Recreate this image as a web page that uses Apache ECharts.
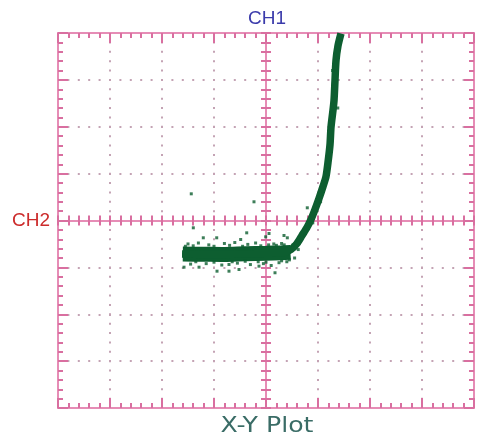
<!DOCTYPE html>
<html>
<head>
<meta charset="utf-8">
<script src="https://cdn.jsdelivr.net/npm/echarts@6/dist/echarts.min.js"></script>
<style>html,body{margin:0;padding:0;background:#fff;}#c{width:477px;height:438px;}</style>
</head>
<body>
<div id="c"></div>
<script>
// Axis range in divisions (8 x 8 screen divisions)
const xRange = [-4, 4];
const yRange = [-4, 4];
// Main trace centre line (divisions)
const traceX = [-1.615, -0.904, -0.135, 0.346, 0.481, 0.596, 0.692, 0.788, 0.865, 0.942, 1.019, 1.096, 1.154, 1.192, 1.231, 1.25, 1.288, 1.308, 1.327, 1.346, 1.385, 1.442];
const traceY = [-0.714, -0.725, -0.704, -0.682, -0.618, -0.490, -0.320, -0.149, 0.021, 0.235, 0.469, 0.725, 0.938, 1.237, 1.620, 1.99, 2.35, 2.56, 2.99, 3.41, 3.73, 3.99];
// Flat noisy band (divisions)
const bandX = [-1.60, -1.2, -0.8, -0.4, 0.0, 0.3, 0.47];
const bandY = [-0.715, -0.72, -0.725, -0.71, -0.70, -0.69, -0.68];
// Stray samples (divisions)
const dotX = [-1.437, -0.231, -1.398, -0.712, 0.173, -1.206, -0.948, -0.487, -1.577, -1.288, -0.942, -0.712, 0.794, 0.410, -0.371, -0.006, 0.058, 0.346, -0.519, -0.135,
  -1.5, -1.3, -1.1, -0.8, -0.6, -0.35, -0.2, 0.15, 0.3, -1.45, -1.15, -0.85, -0.55, -0.3, -0.05, 0.1, 0.25, 0.4, 0.55, 0.62, 0.74, 0.9, 1.05, 1.2, 1.38, 1.28,
  -1.55, -1.4, -1.0, -0.7, -0.45, -0.1, 0.05, 0.2, 0.35, -1.35, -1.0, -0.65, -0.4, -0.15, 0.0, 0.3, 0.45, 0.52];
const dotY = [0.569, 0.399, -0.156, -1.081, -1.115, -0.369, -0.369, -0.405, -0.996, -0.996, -1.081, -0.938, 0.271, -0.369, -0.263, -0.348, -0.277, -0.320, -1.045, -0.974,
  -0.50, -0.48, -0.52, -0.49, -0.47, -0.51, -0.48, -0.50, -0.49, -0.93, -0.92, -0.95, -0.91, -0.94, -0.92, -0.96, -0.90, -0.88, -0.80, -0.62, -0.30, -0.05, 0.40, 1.10, 2.40, 3.20,
  -0.55, -0.54, -0.55, -0.53, -0.55, -0.54, -0.52, -0.53, -0.52, -0.88, -0.89, -0.88, -0.87, -0.88, -0.89, -0.86, -0.84, -0.52];

const pink = '#e68db6';
const tickPink = '#d96fa0';
const dotCol = '#c4a3b4';
const green = '#0d5e30';

const pair = (xs, ys) => xs.map((x, i) => [x, ys[i]]);
const L = 58, T = 33, W = 416, H = 375;

function axis(type, extra) {
  return Object.assign({
    type: 'value',
    min: (type === 'x' ? xRange : yRange)[0],
    max: (type === 'x' ? xRange : yRange)[1],
    interval: 1,
    axisLabel: {show: false},
    splitLine: {show: false},
    axisLine: {show: true, onZero: false, lineStyle: {color: pink, width: 2}},
    axisTick: {show: true, inside: true, length: 10, lineStyle: {color: tickPink, width: 2}},
    minorTick: {show: true, splitNumber: 5, length: 5, lineStyle: {color: tickPink, width: 2}}
  }, extra);
}
const hidden = (type, gi) => ({type: 'value', gridIndex: gi, show: false,
  min: (type === 'x' ? xRange : yRange)[0], max: (type === 'x' ? xRange : yRange)[1]});
const centreTicks = () => ({show: true, inside: true, length: 5, lineStyle: {color: tickPink, width: 2}});

const option = {
  animation: false,
  backgroundColor: '#fff',
  grid: [
    {left: L, top: T, width: W, height: H},
    {left: L, top: T, width: W, height: H},
    {left: L, top: T, width: W, height: H / 2},          // upper half: centre x axis at its bottom
    {left: L, top: T + H / 2, width: W, height: H / 2},  // lower half: centre x axis at its top
    {left: L, top: T, width: W / 2, height: H},          // left half: centre y axis at its right
    {left: L + W / 2, top: T, width: W / 2, height: H}   // right half: centre y axis at its left
  ],
  xAxis: [
    axis('x', {gridIndex: 0, position: 'bottom',
      splitLine: {show: true, lineStyle: {color: dotCol, width: 2, type: [2, 7.375], dashOffset: 1}}}),
    axis('x', {gridIndex: 1, position: 'top'}),
    axis('x', {gridIndex: 2, position: 'bottom', axisTick: centreTicks()}),
    axis('x', {gridIndex: 3, position: 'top', axisTick: centreTicks()}),
    hidden('x', 4),
    hidden('x', 5)
  ],
  yAxis: [
    axis('y', {gridIndex: 0, position: 'left',
      splitLine: {show: true, lineStyle: {color: dotCol, width: 2, type: [2, 8.4], dashOffset: 1}}}),
    axis('y', {gridIndex: 1, position: 'right'}),
    hidden('y', 2),
    hidden('y', 3),
    axis('y', {gridIndex: 4, position: 'right', axisTick: centreTicks()}),
    axis('y', {gridIndex: 5, position: 'left', axisTick: centreTicks()})
  ],
  series: [
    {type: 'line', xAxisIndex: 0, yAxisIndex: 0, data: pair(bandX, bandY), showSymbol: false, smooth: 0.3,
      lineStyle: {color: green, width: 15}, z: 5},
    {type: 'line', xAxisIndex: 0, yAxisIndex: 0, data: pair(traceX, traceY), showSymbol: false, smooth: 0.25,
      lineStyle: {color: green, width: 7.5}, z: 6},
    {type: 'scatter', xAxisIndex: 0, yAxisIndex: 0, data: pair(dotX, dotY), symbol: 'rect', symbolSize: 3,
      itemStyle: {color: green}, z: 7}
  ],
  graphic: [
    {type: 'text', x: 267, y: 18.5, style: {text: 'CH1', font: '19px "Liberation Sans", Arial, sans-serif', fill: '#3b3bab', align: 'center', verticalAlign: 'middle'}},
    {type: 'text', x: 31, y: 221, style: {text: 'CH2', font: '19px "Liberation Sans", Arial, sans-serif', fill: '#cc2b2b', align: 'center', verticalAlign: 'middle'}},
    {type: 'text', x: 267, y: 426.5, scaleX: 1.2, style: {text: 'X-Y Plot', font: '21px "DejaVu Sans", sans-serif', fill: '#3a6c66', align: 'center', verticalAlign: 'middle'}}
  ]
};

const chart = echarts.init(document.getElementById('c'), null, {renderer: 'canvas'});
chart.setOption(option);
</script>
</body>
</html>
